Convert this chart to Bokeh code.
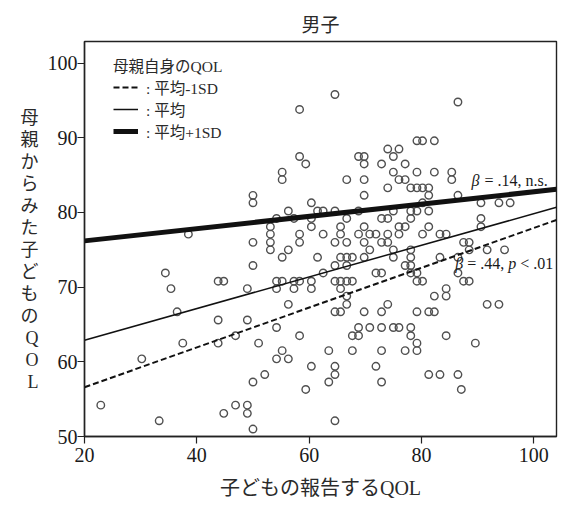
from bokeh.plotting import figure
from bokeh.models import Range1d, Label, Legend, LegendItem, FixedTicker
from bokeh.embed import file_html
from bokeh.resources import INLINE

# ---------------- data ----------------
title_text = "男子"
x_label = "子どもの報告するQOL"
y_label = "母親からみた子どものQOL"
legend_title = "母親自身のQOL"
legend_labels = [": 平均-1SD", ": 平均", ": 平均+1SD"]
x_ticks = [20, 40, 60, 80, 100]
y_ticks = [50, 60, 70, 80, 90, 100]

# regression lines (simple slopes) at x = 20 and x = 104
line_x = [20, 104.05]
minus_sd_y = [56.6, 79.0]
mean_y = [62.9, 80.7]
plus_sd_y = [76.2, 83.1]

beta_plus = ["β", "= .14, n.s."]
beta_minus = ["β", "= .44,", "p", "< .01"]

# scatter: child-reported QOL (x) and mother-reported QOL (y)
child_qol = [
    64.6,
    86.5,
    58.3,
    79.2, 80.2, 82.3,
    74.0, 76.0,
    58.3, 68.8, 69.8, 75.0,
    59.4, 69.8, 72.9, 77.1,
    55.2, 75.0, 79.2, 82.3, 85.4,
    55.2, 66.7, 69.8, 76.0, 77.1, 85.4,
    74.0, 78.1, 79.2, 80.2, 81.3,
    50.0, 69.8, 81.3, 86.5,
    50.0, 60.4, 80.2, 90.6, 93.8, 95.8,
    56.3, 61.5, 62.5, 64.6, 68.8, 75.0, 78.1, 79.2, 81.3,
    54.2, 57.3, 60.4, 66.7, 72.9, 74.0, 78.1, 90.6,
    53.1, 60.4, 65.6, 69.8, 76.0, 77.1, 81.3, 90.6,
    38.5, 53.1, 58.3, 62.5, 65.6, 68.8, 70.8, 71.9, 74.0, 76.0, 80.2, 83.3, 84.4,
    50.0, 53.1, 58.3, 64.6, 66.7, 69.8, 72.9, 74.0, 87.5, 88.5,
    53.1, 56.3, 70.8, 75.0, 78.1, 88.5, 91.7, 94.8,
    55.2, 61.5, 65.6, 66.7, 67.7, 69.8, 75.0, 78.1, 83.3, 86.5,
    50.0, 64.6, 66.7, 77.1, 78.1,
    34.4, 62.5, 71.9, 72.9, 78.1, 79.2, 86.5,
    43.8, 44.8, 54.2, 55.2, 57.3, 58.3, 60.4, 64.6, 65.6, 66.7, 67.7, 79.2, 80.2, 87.5, 88.5,
    35.4, 49.0, 54.2, 57.3, 60.4, 65.6, 84.4,
    66.7, 82.3, 84.4,
    56.3, 66.7, 74.0, 91.7, 93.8,
    36.5, 64.6, 65.6, 69.8, 72.9, 79.2, 81.3, 82.3,
    43.8, 49.0,
    54.2, 68.8, 70.8, 72.9, 75.0, 76.0, 78.1,
    46.9, 58.3, 67.7, 68.8, 78.1, 84.4,
    37.5, 43.8, 51.0, 79.2, 89.6,
    55.2, 63.5, 67.7, 72.9, 77.1, 79.2,
    30.2, 54.2, 56.3,
    60.4, 64.6, 71.9,
    52.1, 64.6, 81.3, 83.3, 86.5,
    50.0, 63.5, 72.9,
    59.4, 87.1,
    22.9, 46.9, 49.0,
    44.8, 49.0,
    33.3, 64.6,
    50.0,
]
mother_qol = (
    [95.8] * 1 + [94.8] * 1 + [93.8] * 1 + [89.6] * 3 + [88.5] * 2 + [87.5] * 4
    + [86.5] * 4 + [85.4] * 5 + [84.4] * 6 + [83.3] * 5 + [82.3] * 4 + [81.3] * 6
    + [80.2] * 9 + [79.2] * 8 + [78.1] * 8 + [77.1] * 13 + [76.0] * 10 + [75.0] * 8
    + [74.0] * 10 + [72.9] * 5 + [71.9] * 7 + [70.8] * 15 + [69.8] * 7 + [68.8] * 3
    + [67.7] * 5 + [66.7] * 8 + [65.6] * 2 + [64.6] * 7 + [63.5] * 6 + [62.5] * 5
    + [61.5] * 6 + [60.4] * 3 + [59.4] * 3 + [58.3] * 5 + [57.3] * 3 + [56.3] * 2
    + [54.2] * 3 + [53.1] * 2 + [52.1] * 2 + [51.0] * 1
)

# ---------------- styling ----------------
SERIF = "'Liberation Serif', 'Noto Sans CJK JP'"
TXT = "#2a2a2a"

p = figure(
    width=558, height=501,
    x_range=Range1d(20, 104.05), y_range=Range1d(50, 102.9),
    output_backend="svg", toolbar_location=None,
    min_border_left=84, min_border_right=2, min_border_top=41, min_border_bottom=64,
    title=title_text,
)
p.title.align = "center"
p.title.text_font = SERIF
p.title.text_font_size = "19px"
p.title.text_font_style = "normal"
p.title.text_color = TXT
p.title.standoff = 12

p.xgrid.visible = False
p.ygrid.visible = False
p.outline_line_color = "#222222"
p.outline_line_width = 1.4
p.background_fill_color = "white"
p.border_fill_color = "white"

for ax in (p.xaxis[0], p.yaxis[0]):
    ax.axis_line_color = "#222222"
    ax.axis_line_width = 1.4
    ax.major_tick_line_color = "#222222"
    ax.major_tick_line_width = 1.2
    ax.major_tick_out = 7
    ax.major_tick_in = 0
    ax.minor_tick_line_color = None
    ax.major_label_text_font = SERIF
    ax.major_label_text_font_size = "20px"
    ax.major_label_text_color = "#1a1a1a"

p.xaxis.ticker = FixedTicker(ticks=x_ticks)
p.yaxis.ticker = FixedTicker(ticks=y_ticks)
p.xaxis.major_label_standoff = 4
p.yaxis.major_label_standoff = 0
p.xaxis.axis_label = x_label
p.xaxis.axis_label_text_font = SERIF
p.xaxis.axis_label_text_font_size = "20px"
p.xaxis.axis_label_text_font_style = "normal"
p.xaxis.axis_label_text_color = TXT
p.xaxis.axis_label_standoff = 12

# vertical (upright) y-axis title: one character per line
p.yaxis.axis_label = "\n" + "\n".join(y_label)
p.yaxis.axis_label_orientation = "horizontal"
p.yaxis.axis_label_text_font = SERIF
p.yaxis.axis_label_text_font_size = "18px"
p.yaxis.axis_label_text_font_style = "normal"
p.yaxis.axis_label_text_color = TXT
p.yaxis.axis_label_text_line_height = 1.1
p.yaxis.axis_label_standoff = 6

# scatter points
p.scatter(child_qol, mother_qol, marker="circle", size=7.5,
          fill_color=None, line_color="#505050", line_width=1.4)

# regression lines
r_minus = p.line(line_x, minus_sd_y, line_color="#111111", line_width=2, line_dash="6 3")
r_mean = p.line(line_x, mean_y, line_color="#111111", line_width=1.5)
r_plus = p.line(line_x, plus_sd_y, line_color="#111111", line_width=5)

legend = Legend(
    items=[LegendItem(label=legend_labels[0], renderers=[r_minus]),
           LegendItem(label=legend_labels[1], renderers=[r_mean]),
           LegendItem(label=legend_labels[2], renderers=[r_plus])],
    title=legend_title,
    location=(29, 294),
    background_fill_alpha=0, border_line_color=None,
    label_text_font=SERIF, label_text_font_size="15.5px", label_text_color=TXT,
    title_text_font=SERIF, title_text_font_size="15.5px", title_text_color=TXT,
    title_text_font_style="normal", title_standoff=0,
    glyph_width=25, glyph_height=16, label_height=16, label_standoff=8,
    spacing=-5, padding=10, margin=0,
)
p.add_layout(legend)

# beta annotations
def add_pieces(x, y, pieces, offsets, italics):
    for t, off, it in zip(pieces, offsets, italics):
        p.add_layout(Label(
            x=x, y=y, x_offset=off, text=t,
            text_align="left", text_baseline="middle",
            text_font=SERIF, text_font_size="16px", text_color="#1a1a1a",
            text_font_style="italic" if it else "normal",
        ))

add_pieces(88.9, 84.35, beta_plus, [0, 13], [True, False])
add_pieces(86.0, 73.14, beta_minus, [0, 12, 53, 65], [True, False, True, False])

open("out.html", "w").write(file_html(p, INLINE))
